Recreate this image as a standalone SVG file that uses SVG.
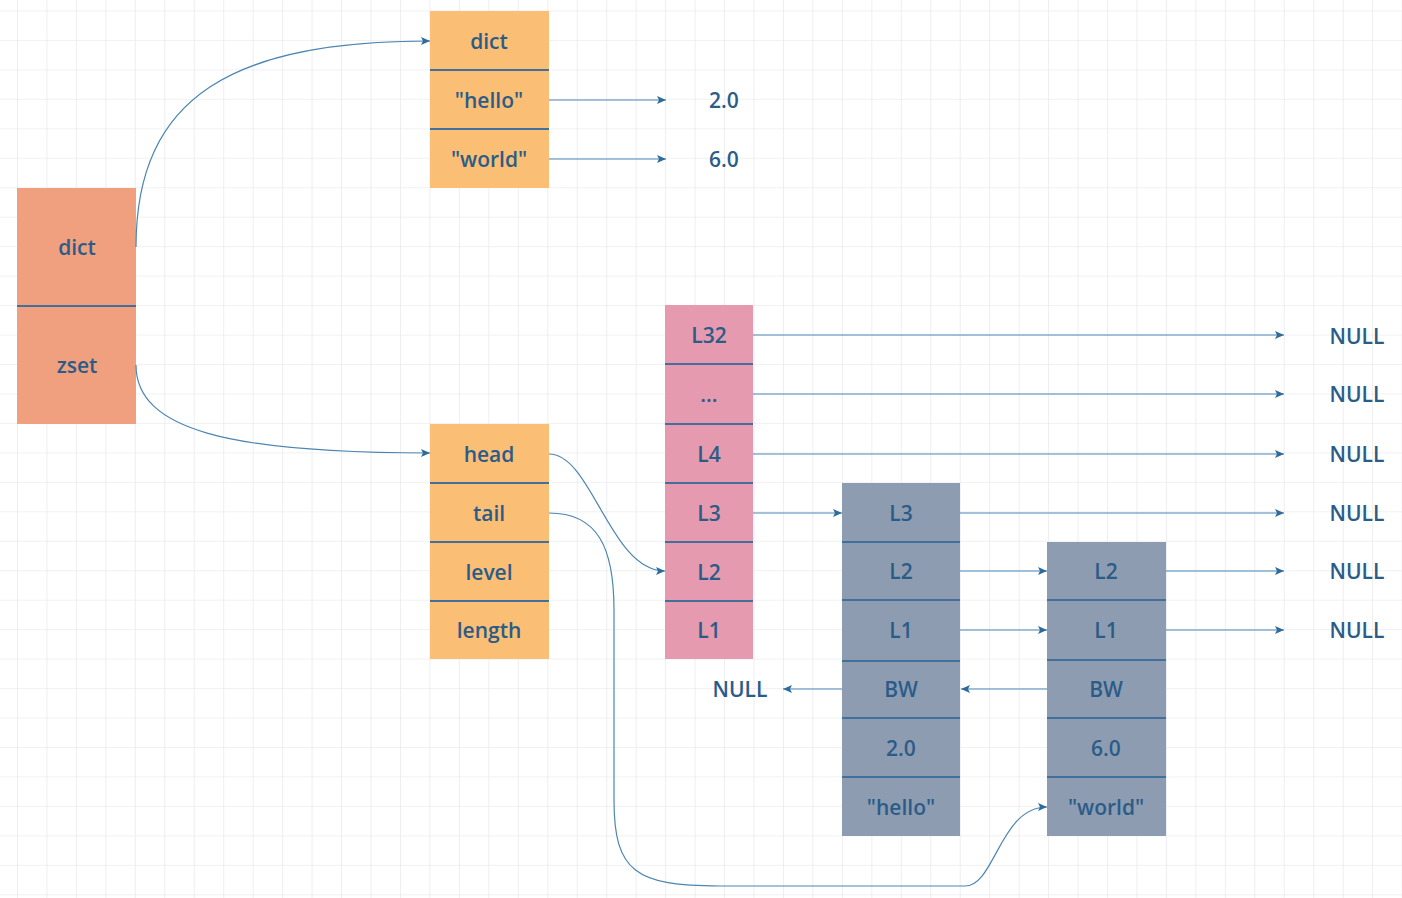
<svg xmlns="http://www.w3.org/2000/svg" width="1402" height="898" viewBox="0 0 1402 898">
<style>
  .t{font-family:"Open Sans","Noto Sans","Liberation Sans",sans-serif;font-size:21px;font-weight:600;fill:#2b5c88;text-anchor:middle;dominant-baseline:central}
  .div{stroke:#40709b;stroke-width:2}
  .c{fill:none;stroke:#4b85b3;stroke-width:1.2}
  .zs{fill:#f0a07f}
  .or{fill:#fbbe75}
  .pk{fill:#e59aaf}
  .gr{fill:#8e9cb1}
</style>
<defs>
  <pattern id="grid" patternUnits="userSpaceOnUse" x="17" y="10.5" width="29.46" height="29.46">
    <path d="M0,0 H29.46 M0,0 V29.46" fill="none" stroke="#e3e3ea" stroke-width="1.2"/>
  </pattern>
  <marker id="ah" markerUnits="userSpaceOnUse" markerWidth="10" markerHeight="10" viewBox="0 0 10 10" refX="9" refY="5" orient="auto">
    <path d="M0,1 L9,5 L0,9 L2,5 z" fill="#2d6b9c"/>
  </marker>
</defs>
<rect width="1402" height="898" fill="#ffffff"/>
<rect width="1402" height="898" fill="url(#grid)"/>

<g id="zset-node">
  <rect class="zs" x="17" y="188" width="119" height="236"/>
  <line class="div" x1="17" y1="306" x2="136" y2="306"/>
  <text class="t" x="77" y="247">dict</text>
  <text class="t" x="77" y="365">zset</text>
</g>

<g id="dict-node">
  <rect class="or" x="430" y="11" width="119" height="177"/>
  <line class="div" x1="430" y1="70" x2="549" y2="70"/>
  <line class="div" x1="430" y1="129" x2="549" y2="129"/>
  <text class="t" x="489" y="41">dict</text>
  <text class="t" x="489" y="100">"hello"</text>
  <text class="t" x="489" y="159">"world"</text>
</g>

<g id="dict-values">
  <text class="t" x="724" y="100">2.0</text>
  <text class="t" x="724" y="159">6.0</text>
</g>

<g id="skiplist-node">
  <rect class="or" x="430" y="424" width="119" height="235"/>
  <line class="div" x1="430" y1="483" x2="549" y2="483"/>
  <line class="div" x1="430" y1="542" x2="549" y2="542"/>
  <line class="div" x1="430" y1="601" x2="549" y2="601"/>
  <text class="t" x="489" y="454">head</text>
  <text class="t" x="489" y="513">tail</text>
  <text class="t" x="489" y="572">level</text>
  <text class="t" x="489" y="630">length</text>
</g>

<g id="header-node">
  <rect class="pk" x="665" y="305" width="88" height="354"/>
  <line class="div" x1="665" y1="364" x2="753" y2="364"/>
  <line class="div" x1="665" y1="424" x2="753" y2="424"/>
  <line class="div" x1="665" y1="483" x2="753" y2="483"/>
  <line class="div" x1="665" y1="542" x2="753" y2="542"/>
  <line class="div" x1="665" y1="601" x2="753" y2="601"/>
  <text class="t" x="709" y="335">L32</text>
  <text class="t" x="709" y="394">...</text>
  <text class="t" x="709" y="454">L4</text>
  <text class="t" x="709" y="513">L3</text>
  <text class="t" x="709" y="572">L2</text>
  <text class="t" x="709" y="630">L1</text>
</g>

<g id="node-hello">
  <rect class="gr" x="842" y="483" width="118" height="353"/>
  <line class="div" x1="842" y1="542" x2="960" y2="542"/>
  <line class="div" x1="842" y1="600" x2="960" y2="600"/>
  <line class="div" x1="842" y1="661" x2="960" y2="661"/>
  <line class="div" x1="842" y1="718" x2="960" y2="718"/>
  <line class="div" x1="842" y1="777" x2="960" y2="777"/>
  <text class="t" x="901" y="513">L3</text>
  <text class="t" x="901" y="571">L2</text>
  <text class="t" x="901" y="630">L1</text>
  <text class="t" x="901" y="689">BW</text>
  <text class="t" x="901" y="748">2.0</text>
  <text class="t" x="901" y="807">"hello"</text>
</g>

<g id="node-world">
  <rect class="gr" x="1047" y="542" width="119" height="294"/>
  <line class="div" x1="1047" y1="600" x2="1166" y2="600"/>
  <line class="div" x1="1047" y1="660" x2="1166" y2="660"/>
  <line class="div" x1="1047" y1="718" x2="1166" y2="718"/>
  <line class="div" x1="1047" y1="777" x2="1166" y2="777"/>
  <text class="t" x="1106" y="571">L2</text>
  <text class="t" x="1106" y="630">L1</text>
  <text class="t" x="1106" y="689">BW</text>
  <text class="t" x="1106" y="748">6.0</text>
  <text class="t" x="1106" y="807">"world"</text>
</g>

<g id="null-labels">
  <text class="t" x="1357" y="336">NULL</text>
  <text class="t" x="1357" y="394">NULL</text>
  <text class="t" x="1357" y="454">NULL</text>
  <text class="t" x="1357" y="513">NULL</text>
  <text class="t" x="1357" y="571">NULL</text>
  <text class="t" x="1357" y="630">NULL</text>
  <text class="t" x="740" y="689">NULL</text>
</g>

<g id="connectors">
  <path class="c" marker-end="url(#ah)" d="M136,247 C136,95 235,41 430,41"/>
  <path class="c" marker-end="url(#ah)" d="M136,365 C136,430 230,453 430,453"/>
  <path class="c" marker-end="url(#ah)" d="M549,100 H666"/>
  <path class="c" marker-end="url(#ah)" d="M549,159 H666"/>
  <path class="c" marker-end="url(#ah)" d="M549,454 C592,454 610,571 665,571"/>
  <path class="c" marker-end="url(#ah)" d="M549,513 C598,513 614,548 614,610 L614,800 C614,872 636,886 720,886 L965,886 C995,886 1000,807 1047,807"/>
  <path class="c" marker-end="url(#ah)" d="M753,335 H1284"/>
  <path class="c" marker-end="url(#ah)" d="M753,394 H1284"/>
  <path class="c" marker-end="url(#ah)" d="M753,454 H1284"/>
  <path class="c" marker-end="url(#ah)" d="M753,513 H842"/>
  <path class="c" marker-end="url(#ah)" d="M960,513 H1284"/>
  <path class="c" marker-end="url(#ah)" d="M960,571 H1047"/>
  <path class="c" marker-end="url(#ah)" d="M960,630 H1047"/>
  <path class="c" marker-end="url(#ah)" d="M1166,571 H1284"/>
  <path class="c" marker-end="url(#ah)" d="M1166,630 H1284"/>
  <path class="c" marker-end="url(#ah)" d="M842,689 H783"/>
  <path class="c" marker-end="url(#ah)" d="M1047,689 H961"/>
</g>
</svg>
